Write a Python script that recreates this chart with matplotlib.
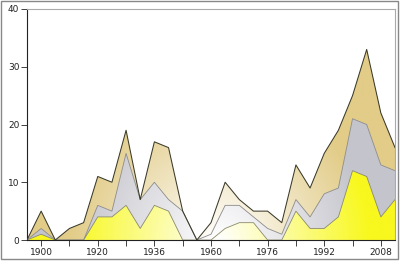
import numpy as np
import matplotlib
matplotlib.use("Agg")
import matplotlib.pyplot as plt
from matplotlib.patches import Rectangle

years = [1896, 1900, 1904, 1908, 1912, 1920, 1924, 1928, 1932, 1936, 1948, 1952, 1956,
         1960, 1964, 1968, 1972, 1976, 1980, 1984, 1988, 1992, 1996, 2000, 2004, 2008, 2012]
gold = [0, 1, 0, 0, 0, 4, 4, 6, 2, 6, 5, 0, 0, 0, 2, 3, 3, 0, 0, 5, 2, 2, 4, 12, 11, 4, 7]
silver = [0, 1, 0, 0, 0, 2, 1, 9, 5, 4, 2, 5, 0, 1, 4, 3, 1, 2, 1, 2, 2, 6, 5, 9, 9, 9, 5]
bronze = [0, 3, 0, 2, 3, 5, 5, 4, 0, 7, 9, 0, 0, 2, 4, 1, 1, 3, 2, 6, 5, 7, 10, 4, 13, 9, 4]
tick_years = [1900, 1920, 1936, 1960, 1976, 1992, 2008]

layer_colors = ['#f8f81e', '#c4c4cc', '#e2cc88']
edge_colors = ['#8a8a6a', '#8a8a8a', '#3a3a2a']


def gradient_image(color, nx=400, ny=240):
    # white in the middle-bottom, full colour further out
    xs = np.linspace(0, len(years) - 1, nx)
    ys = np.linspace(0, 40, ny)
    X, Y = np.meshgrid(xs, ys)
    d = np.sqrt(((X - 13.6) * 14.15) ** 2 + (Y * 5.78) ** 2)
    t = np.clip(d / 150.0, 0, 1)
    base = np.array(matplotlib.colors.to_rgb(color))
    img = 1 - (1 - base) * t[..., None]
    return img


fig = plt.figure(figsize=(4, 2.61), dpi=100)
ax = fig.add_axes([27 / 400, 21 / 261, 368 / 400, 231 / 261])

x = np.arange(len(years))
g = np.array(gold)
s = g + np.array(silver)
b = s + np.array(bronze)
lows = [np.zeros(len(x)), g, s]
highs = [g, s, b]

for i, (lo, hi) in enumerate(zip(lows, highs)):
    poly = ax.fill_between(x, lo, hi, facecolor='none', edgecolor='none')
    im = ax.imshow(gradient_image(layer_colors[i]), extent=(0, len(years) - 1, 0, 40),
                   origin='lower', aspect='auto', interpolation='bilinear', zorder=1)
    im.set_clip_path(poly.get_paths()[0], transform=ax.transData)

ax.plot(x, g, color=edge_colors[0], lw=0.6, zorder=3)
ax.plot(x, s, color=edge_colors[1], lw=0.6, zorder=3)
ax.plot(x, b, color=edge_colors[2], lw=0.75, zorder=4)

ax.set_xlim(0, len(years) - 1)
ax.set_ylim(0, 40)

tick_pos = list(range(1, len(years), 2))
ax.set_xticks(tick_pos)
ax.set_xticklabels([str(years[p]) if years[p] in tick_years else '' for p in tick_pos])
ax.set_yticks([0, 10, 20, 30, 40])
ax.tick_params(direction='out', length=4, width=0.6, labelsize=6.5,
               colors='#222222', pad=1.5)

for side in ['top', 'right']:
    ax.spines[side].set_color('#aaaaaa')
    ax.spines[side].set_linewidth(0.8)
for side in ['left', 'bottom']:
    ax.spines[side].set_color('#222222')
    ax.spines[side].set_linewidth(0.8)

fig.patches.append(Rectangle((0.002, 0.008), 0.994, 0.988, transform=fig.transFigure,
                             fill=False, edgecolor='#888888', lw=1.0))

fig.savefig('out.png', dpi=100)
